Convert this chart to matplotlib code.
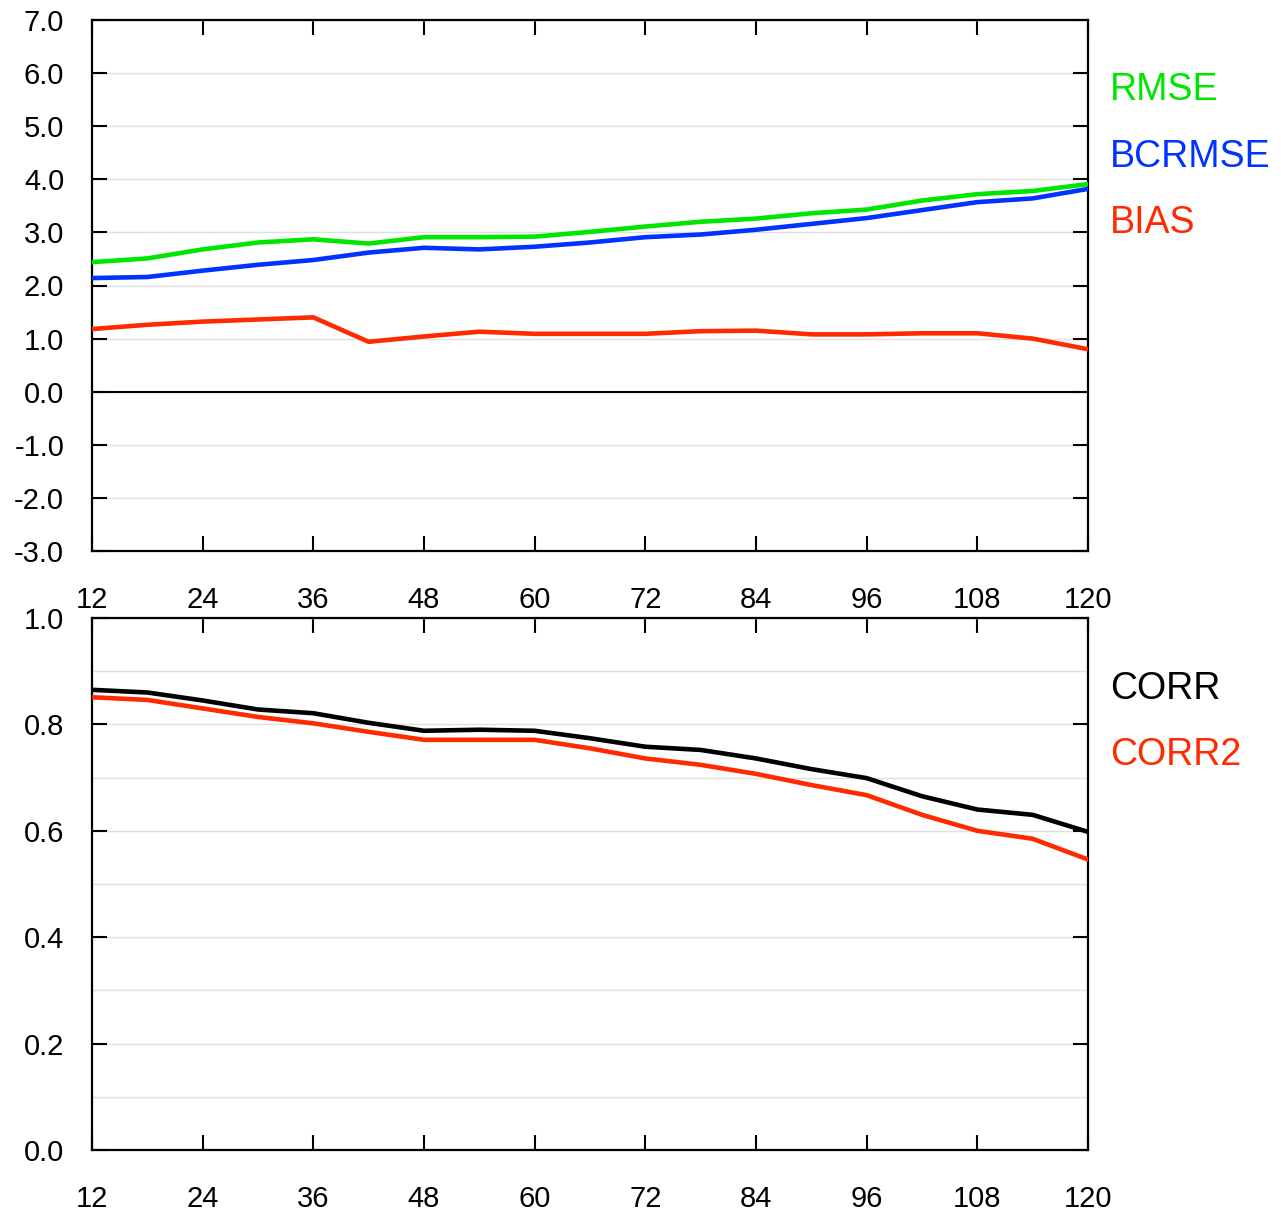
import matplotlib
matplotlib.use("Agg")
import matplotlib.pyplot as plt
from matplotlib.ticker import FormatStrFormatter, MultipleLocator

plt.rcParams['font.family'] = ['Liberation Sans', 'DejaVu Sans']
plt.rcParams['axes.unicode_minus'] = False

hours = [12, 18, 24, 30, 36, 42, 48, 54, 60, 66, 72, 78, 84, 90, 96, 102, 108, 114, 120]
rmse = [2.44, 2.51, 2.68, 2.81, 2.87, 2.79, 2.91, 2.91, 2.92, 3.01, 3.11, 3.20, 3.26, 3.36, 3.43, 3.60, 3.72, 3.78, 3.91]
bcrmse = [2.14, 2.16, 2.28, 2.39, 2.48, 2.62, 2.71, 2.68, 2.73, 2.81, 2.91, 2.96, 3.05, 3.16, 3.27, 3.42, 3.57, 3.64, 3.82]
bias = [1.18, 1.26, 1.32, 1.36, 1.40, 0.94, 1.04, 1.13, 1.09, 1.09, 1.09, 1.14, 1.15, 1.08, 1.08, 1.10, 1.10, 1.00, 0.80]
corr = [0.865, 0.860, 0.845, 0.828, 0.821, 0.803, 0.788, 0.790, 0.788, 0.774, 0.758, 0.752, 0.736, 0.716, 0.699, 0.665, 0.640, 0.630, 0.598]
corr2 = [0.851, 0.846, 0.830, 0.814, 0.802, 0.786, 0.771, 0.771, 0.771, 0.755, 0.736, 0.724, 0.707, 0.686, 0.667, 0.630, 0.600, 0.585, 0.546]
xticks = [12, 24, 36, 48, 60, 72, 84, 96, 108, 120]

GREEN = '#00e600'
BLUE = '#0033ff'
RED = '#ff2a00'
BLACK = '#000000'

W, H = 1281, 1215
fig = plt.figure(figsize=(W / 100, H / 100), dpi=100)

def px_axes(l, t, r, b):
    return fig.add_axes([l / W, 1 - b / H, (r - l) / W, (b - t) / H])

ax1 = px_axes(92, 20, 1088, 551)
ax2 = px_axes(92, 618, 1088, 1150)

def style(ax, ylim, major, grid_step):
    ax.set_xlim(12, 120)
    ax.set_ylim(*ylim)
    ax.set_xticks(xticks)
    ax.yaxis.set_major_locator(MultipleLocator(major))
    ax.yaxis.set_major_formatter(FormatStrFormatter('%.1f'))
    ax.yaxis.set_minor_locator(MultipleLocator(grid_step))
    ax.tick_params(axis='both', which='major', direction='in', length=11,
                   width=1.5, top=True, right=True, labelsize=21, colors='black')
    ax.tick_params(axis='y', which='major', pad=20)
    ax.tick_params(axis='x', which='major', pad=25)
    ax.tick_params(axis='y', which='minor', length=0)
    ax.grid(True, which='both', axis='y', color='#e0e0e0', linewidth=1.0)
    ax.set_axisbelow(True)
    for s in ax.spines.values():
        s.set_linewidth(1.6)
        s.set_color('black')

style(ax1, (-3, 7), 1.0, 1.0)
style(ax2, (0, 1), 0.2, 0.1)

ax1.axhline(0, color='black', linewidth=1.5, zorder=2)
ax1.plot(hours, rmse, color=GREEN, linewidth=3.3, zorder=3)
ax1.plot(hours, bcrmse, color=BLUE, linewidth=3.3, zorder=3)
ax1.plot(hours, bias, color=RED, linewidth=3.3, zorder=3)

ax2.plot(hours, corr, color=BLACK, linewidth=3.3, zorder=3)
ax2.plot(hours, corr2, color=RED, linewidth=3.3, zorder=3)

for label, color, y in [('RMSE', GREEN, 90), ('BCRMSE', BLUE, 157), ('BIAS', RED, 223),
                        ('CORR', BLACK, 689), ('CORR2', RED, 755)]:
    fig.text(1110 / W, 1 - y / H, label, color=color, fontsize=27, va='center', ha='left')

fig.savefig('out.png', dpi=100)
